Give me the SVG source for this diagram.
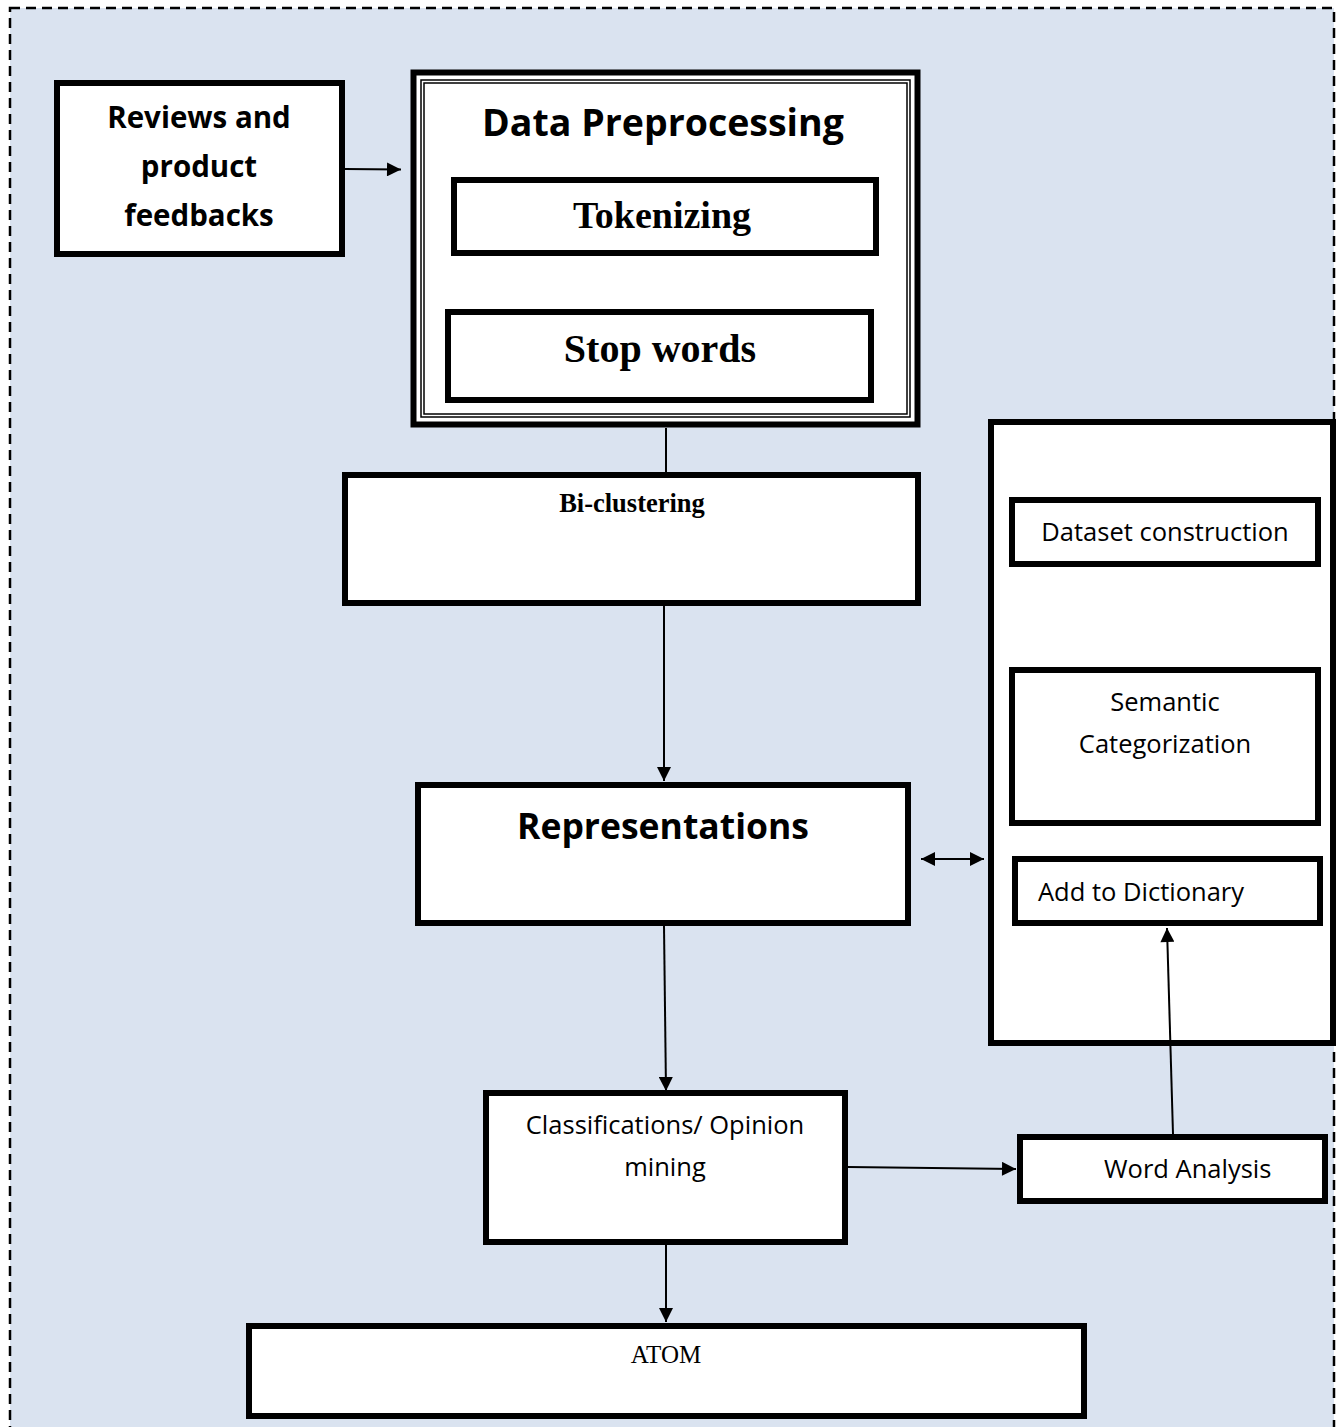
<svg xmlns="http://www.w3.org/2000/svg" width="1343" height="1427" viewBox="0 0 1343 1427">
<style>
.box{fill:#fff;stroke:#000;stroke-width:6}
.sans{font-family:"Open Sans","Liberation Sans",sans-serif;fill:#000}
.serif{font-family:"Liberation Serif","Times New Roman",serif;fill:#000}
.reg{font-size:25.5px}
.conn{stroke:#000;stroke-width:2;fill:none}
</style>
<defs>
<marker id="ah" viewBox="0 0 10 10" refX="10" refY="5" markerWidth="16" markerHeight="14" markerUnits="userSpaceOnUse" orient="auto-start-reverse">
<path d="M0,0 L10,5 L0,10 z" fill="#000"/>
</marker>
</defs>
<rect x="0" y="0" width="1343" height="1427" fill="#fff"/>
<rect x="10" y="8" width="1324" height="1430" fill="#dae3f0" stroke="#000" stroke-width="2.5" stroke-dasharray="10,6"/>

<g id="reviews">
<rect class="box" x="57" y="83" width="285" height="171"/>
<text class="sans" font-weight="bold" font-size="29.5" text-anchor="middle" x="199" y="128">Reviews and</text>
<text class="sans" font-weight="bold" font-size="29.5" text-anchor="middle" x="199" y="177">product</text>
<text class="sans" font-weight="bold" font-size="29.5" text-anchor="middle" x="199" y="226">feedbacks</text>
</g>

<g id="preprocessing">
<rect class="box" x="413.5" y="72.5" width="504" height="352" stroke-width="7"/>
<rect x="421" y="80" width="489" height="337" fill="none" stroke="#000" stroke-width="1.5"/>
<rect x="424" y="83" width="483" height="331" fill="none" stroke="#000" stroke-width="1.5"/>
<text class="sans" font-weight="bold" font-size="37.5" text-anchor="middle" x="663" y="136">Data Preprocessing</text>
</g>

<g id="tokenizing">
<rect class="box" x="454" y="180" width="422" height="73"/>
<text class="serif" font-weight="bold" font-size="38" text-anchor="middle" x="662" y="228">Tokenizing</text>
</g>

<g id="stopwords">
<rect class="box" x="448" y="312" width="423" height="88"/>
<text class="serif" font-weight="bold" font-size="40" text-anchor="middle" x="660" y="362">Stop words</text>
</g>

<g id="biclustering">
<rect class="box" x="345" y="475" width="573" height="128"/>
<text class="serif" font-weight="bold" font-size="26.5" text-anchor="middle" x="632" y="512">Bi-clustering</text>
</g>

<g id="representations">
<rect class="box" x="418" y="785" width="490" height="138"/>
<text class="sans" font-weight="bold" font-size="35.5" text-anchor="middle" x="663" y="839">Representations</text>
</g>

<g id="dictionary-panel">
<rect class="box" x="991" y="422" width="342" height="621"/>
</g>

<g id="dataset">
<rect class="box" x="1012" y="500" width="306" height="64"/>
<text class="sans reg" text-anchor="middle" x="1165" y="541">Dataset construction</text>
</g>

<g id="semantic">
<rect class="box" x="1012" y="670" width="306" height="153"/>
<text class="sans reg" text-anchor="middle" x="1165" y="711">Semantic</text>
<text class="sans reg" text-anchor="middle" x="1165" y="753">Categorization</text>
</g>

<g id="adddict">
<rect class="box" x="1015" y="859" width="305" height="64"/>
<text class="sans reg" x="1038" y="901">Add to Dictionary</text>
</g>

<g id="wordanalysis">
<rect class="box" x="1020" y="1137" width="305" height="64"/>
<text class="sans reg" x="1104" y="1178">Word Analysis</text>
</g>

<g id="classifications">
<rect class="box" x="486" y="1093" width="359" height="149"/>
<text class="sans reg" text-anchor="middle" x="665" y="1134">Classifications/ Opinion</text>
<text class="sans reg" text-anchor="middle" x="665" y="1176">mining</text>
</g>

<g id="atom">
<rect class="box" x="249" y="1326" width="835" height="90"/>
<text class="serif" font-size="25" text-anchor="middle" x="666" y="1363">ATOM</text>
</g>

<g id="connectors">
<line class="conn" x1="345" y1="169" x2="401" y2="169.5" marker-end="url(#ah)"/>
<line class="conn" x1="666" y1="428" x2="666" y2="472"/>
<line class="conn" x1="664" y1="606" x2="664" y2="781" marker-end="url(#ah)"/>
<line class="conn" x1="664" y1="926" x2="666" y2="1091" marker-end="url(#ah)"/>
<line class="conn" x1="921" y1="859" x2="984" y2="859" marker-start="url(#ah)" marker-end="url(#ah)"/>
<line class="conn" x1="848" y1="1167" x2="1016" y2="1169" marker-end="url(#ah)"/>
<line class="conn" x1="1173" y1="1134" x2="1167" y2="928" marker-end="url(#ah)"/>
<line class="conn" x1="666" y1="1245" x2="666" y2="1322" marker-end="url(#ah)"/>
</g>
</svg>
